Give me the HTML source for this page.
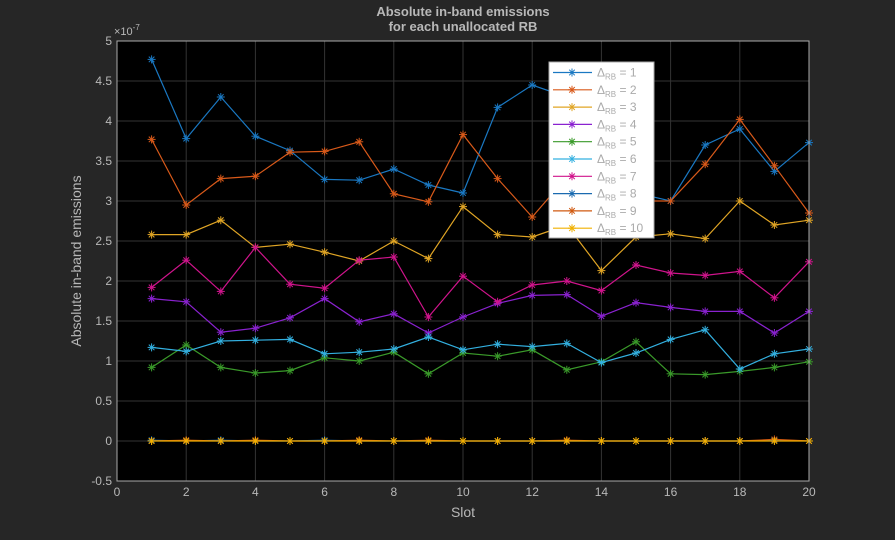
<!DOCTYPE html>
<html><head><meta charset="utf-8"><style>
html,body{margin:0;padding:0;background:#262626;width:895px;height:540px;overflow:hidden}
text{font-family:"Liberation Sans",sans-serif}
</style></head><body>
<svg id="chart" width="895" height="540" xmlns="http://www.w3.org/2000/svg">
<rect x="0" y="0" width="895" height="540" fill="#262626"/>
<rect x="117" y="41" width="692" height="440" fill="#000"/>
<g id="grid"></g>
<g id="series"></g>
<rect x="117" y="41" width="692" height="440" fill="none" stroke="#aaa" stroke-width="1"/>
<g id="ticks"></g>
<text x="463" y="16" text-anchor="middle" fill="#b8b8b8" font-size="13" font-weight="bold">Absolute in-band emissions</text>
<text x="463" y="31" text-anchor="middle" fill="#b8b8b8" font-size="13" font-weight="bold">for each unallocated RB</text>
<text x="114" y="35" fill="#b8b8b8" font-size="11">×10<tspan dy="-5" font-size="8">-7</tspan></text>
<text x="463" y="517" text-anchor="middle" fill="#b8b8b8" font-size="14">Slot</text>
<text transform="translate(81,261) rotate(-90)" text-anchor="middle" fill="#b8b8b8" font-size="14">Absolute in-band emissions</text>
<g id="legend"></g>
</svg>
<script>
const slots=[1,2,3,4,5,6,7,8,9,10,11,12,13,14,15,16,17,18,19,20];
const s1=[4.77,3.78,4.3,3.81,3.63,3.27,3.26,3.4,3.2,3.1,4.17,4.45,4.3,3.7,3.1,3.0,3.7,3.9,3.37,3.73];
const s2=[3.77,2.95,3.28,3.31,3.61,3.62,3.74,3.09,2.99,3.83,3.28,2.8,3.3,3.1,3.0,3.0,3.46,4.02,3.44,2.85];
const s3=[2.58,2.58,2.76,2.42,2.46,2.36,2.25,2.5,2.28,2.93,2.58,2.55,2.7,2.13,2.55,2.59,2.53,3.0,2.7,2.76];
const s4=[1.78,1.74,1.36,1.41,1.54,1.78,1.49,1.59,1.35,1.55,1.72,1.82,1.83,1.56,1.73,1.67,1.62,1.62,1.35,1.62];
const s5=[0.92,1.2,0.92,0.85,0.88,1.04,1.0,1.11,0.84,1.1,1.06,1.14,0.89,0.99,1.24,0.84,0.83,0.87,0.92,0.99];
const s6=[1.17,1.12,1.25,1.26,1.27,1.09,1.11,1.15,1.3,1.14,1.21,1.18,1.22,0.98,1.1,1.27,1.39,0.9,1.09,1.15];
const s7=[1.92,2.26,1.87,2.42,1.96,1.91,2.26,2.3,1.55,2.06,1.74,1.95,2.0,1.88,2.2,2.1,2.07,2.12,1.79,2.24];
const s8=[0.01,0.0,0.01,0.0,0.0,0.01,0.0,0.0,0.0,0.0,0.0,0.0,0.0,0.0,0.0,0.0,0.0,0.0,0.01,0.0];
const s9=[0.0,0.01,0.0,0.01,0.0,0.0,0.01,0.0,0.01,0.0,0.0,0.0,0.01,0.0,0.0,0.0,0.0,0.0,0.02,0.0];
const s10=[0.0,0.0,0.0,0.0,0.0,0.0,0.0,0.0,0.0,0.0,0.0,0.0,0.0,0.0,0.0,0.0,0.0,0.0,0.0,0.0];
const xTicks=[0,2,4,6,8,10,12,14,16,18,20];
const yTicks=[-0.5,0,0.5,1,1.5,2,2.5,3,3.5,4,4.5,5];
const yTickLabels=["-0.5","0","0.5","1","1.5","2","2.5","3","3.5","4","4.5","5"];
const seriesNames=["1","2","3","4","5","6","7","8","9","10"];
const colors=["#0072BD","#D95319","#EDB120","#7E2F8E","#77AC30","#4DBEEE","#A2142F","#0072BD","#D95319","#EDB120"];
const lineColors=["#1a78c2","#d95a1a","#e0a525","#8a22d0","#3a9a2a","#33b0e0","#d0148c","#1a6ab0","#d05a10","#f0b000"];
const allSeries=[s1,s2,s3,s4,s5,s6,s7,s8,s9,s10];
const NS="http://www.w3.org/2000/svg";
const X0=117,X1=809,Y0=481,Y1=41;
function xs(v){return X0+(v-0)/(20-0)*(X1-X0);}
function ys(v){return Y0-(v-(-0.5))/(5-(-0.5))*(Y0-Y1);}
function mk(t,a){const e=document.createElementNS(NS,t);for(const k in a)e.setAttribute(k,a[k]);return e;}
const grid=document.getElementById('grid'),ticks=document.getElementById('ticks');
xTicks.forEach(t=>{
 const l=mk('line',{x1:xs(t),x2:xs(t),y1:Y1,y2:Y0,stroke:'#333','stroke-width':1});
 
 
 grid.appendChild(l);
 const tx=mk('text',{x:xs(t),y:Y0+15,'text-anchor':'middle',fill:'#b8b8b8','font-size':12});
 tx.textContent=t;
 
 
 ticks.appendChild(tx);
});
yTicks.forEach((t,i)=>{
 const l=mk('line',{x1:X0,x2:X1,y1:ys(t),y2:ys(t),stroke:'#333','stroke-width':1});
 
 
 grid.appendChild(l);
 const tx=mk('text',{x:X0-5,y:ys(t)+4,'text-anchor':'end',fill:'#b8b8b8','font-size':12});
 tx.textContent=yTickLabels[i];
 
 
 ticks.appendChild(tx);
});
function star(g,x,y,c){
 const r=4;
 [[r,0],[0,r],[r*0.7,r*0.7],[r*0.7,-r*0.7]].forEach(d=>{
  g.appendChild(mk('line',{x1:x-d[0],y1:y-d[1],x2:x+d[0],y2:y+d[1],stroke:c,'stroke-width':1}));
 });
}
const sg=document.getElementById('series');
allSeries.forEach((s,k)=>{
 const g=mk('g',{});
 
 
 const pts=s.map((v,i)=>xs(slots[i])+','+ys(v)).join(' ');
 const pl=mk('polyline',{points:pts,fill:'none',stroke:lineColors[k],'stroke-width':1.2});
 
 
 g.appendChild(pl);
 s.forEach((v,i)=>star(g,xs(slots[i]),ys(v),lineColors[k]));
 sg.appendChild(g);
});
const lg=document.getElementById('legend');
const bg=mk('rect',{x:549,y:62,width:105,height:176,fill:'#fff',stroke:'#aaa','stroke-width':1});


lg.appendChild(bg);
seriesNames.forEach((n,k)=>{
 const y=72.5+k*17.3;
 const g=mk('g',{});
 
 
 g.appendChild(mk('line',{x1:553,x2:592,y1:y,y2:y,stroke:lineColors[k],'stroke-width':1.2}));
 star(g,572,y,lineColors[k]);
 const t=mk('text',{x:597,y:y+4,fill:'#aaa','font-size':12});
 t.innerHTML='Δ<tspan font-size="8" dy="3">RB</tspan><tspan dy="-3"> = '+n+'</tspan>';
 g.appendChild(t);
 lg.appendChild(g);
});
</script>
</body></html>
